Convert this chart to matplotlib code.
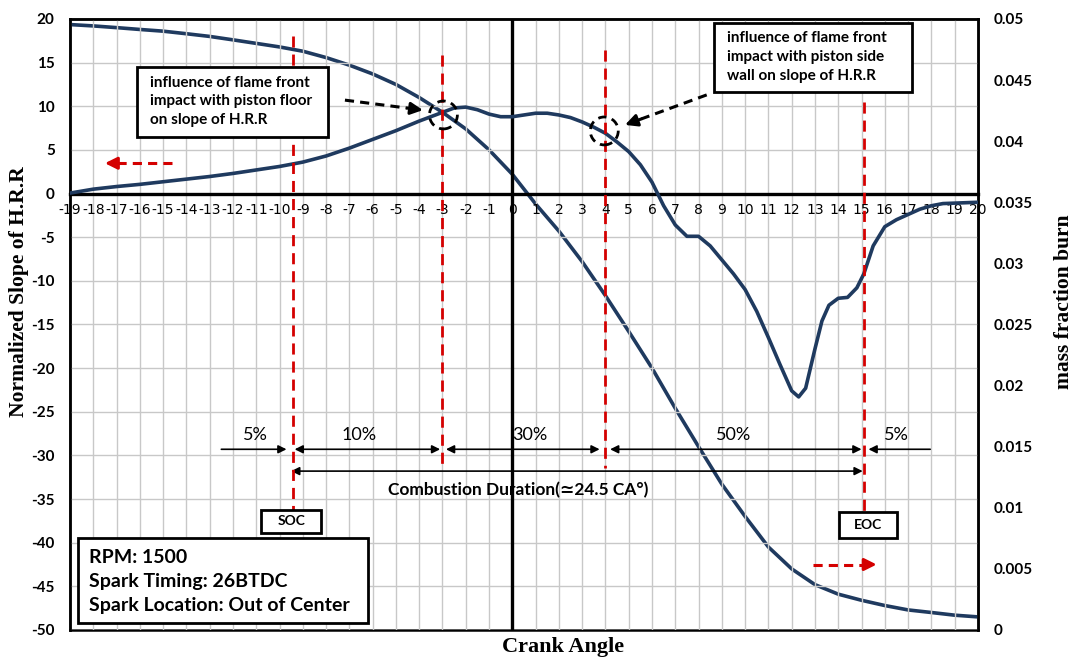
import numpy as np
import matplotlib
matplotlib.use('Agg')
import matplotlib.pyplot as plt
from matplotlib.patches import Ellipse, Rectangle

# ---- data ----
crank_slope = [-19, -18, -17, -16, -15, -14, -13, -12, -11, -10, -9, -8, -7, -6, -5, -4, -3,
               -2.5, -2, -1.5, -1, -0.5, 0, 0.5, 1, 1.5, 2, 2.5, 3, 3.5, 4, 4.5, 5, 5.5, 6,
               6.5, 7, 7.5, 8, 8.5, 9, 9.5, 10, 10.5, 11, 11.5, 12, 12.3, 12.6, 13, 13.3,
               13.6, 14, 14.4, 14.8, 15.1, 15.5, 16, 16.5, 17, 17.5, 18, 18.5, 19, 20]
slope_hrr = [0.05, 0.5, 0.8, 1.05, 1.35, 1.65, 1.95, 2.3, 2.7, 3.1, 3.6, 4.3, 5.2, 6.2, 7.2, 8.3, 9.3,
             9.8, 9.9, 9.6, 9.1, 8.8, 8.8, 9.0, 9.2, 9.2, 9.0, 8.7, 8.2, 7.6, 6.9, 5.9, 4.8, 3.3, 1.3,
             -1.4, -3.6, -4.9, -4.9, -6.0, -7.6, -9.2, -11.0, -13.5, -16.5, -19.6, -22.6, -23.3, -22.3, -17.8, -14.6,
             -12.8, -12.0, -11.9, -10.8, -9.2, -6.0, -3.8, -3.0, -2.4, -1.8, -1.4, -1.15, -1.1, -1.0]

crank_mfb = [-19, -18, -17, -16, -15, -14, -13, -12, -11, -10, -9, -8, -7, -6, -5, -4, -3, -2, -1,
             0, 1, 2, 3, 4, 5, 6, 7, 8, 9, 10, 11, 12, 13, 14, 15, 16, 17, 18, 19, 20]
mass_fraction = [0.04954, 0.04943, 0.04929, 0.04914, 0.04900, 0.04879, 0.04857, 0.04829, 0.04800,
                 0.04771, 0.04736, 0.04684, 0.04622, 0.04550, 0.04464, 0.04357, 0.04236, 0.04100,
                 0.03929, 0.03729, 0.03486, 0.03264, 0.03014, 0.02736, 0.02443, 0.02143, 0.01814,
                 0.01500, 0.01193, 0.00929, 0.00679, 0.00500, 0.00371, 0.00293, 0.00243, 0.00200,
                 0.00164, 0.00143, 0.00121, 0.00107]

x_ticks = list(range(-19, 21))
left_ticks = list(range(-50, 21, 5))
right_ticks = [0, 0.005, 0.01, 0.015, 0.02, 0.025, 0.03, 0.035, 0.04, 0.045, 0.05]
right_ticklabels = ['0', '0.005', '0.01', '0.015', '0.02', '0.025', '0.03', '0.035', '0.04', '0.045', '0.05']

soc, ca10, ca40, eoc = -9.4, -3.0, 4.0, 15.1
phase_labels = ['5%', '10%', '30%', '50%', '5%']

navy = '#1f3a5f'
red = '#d40000'
sans = ['Lato', 'DejaVu Sans']
serif = 'Liberation Serif'

fig = plt.figure(figsize=(10.77, 6.58), dpi=100)
ax = fig.add_axes([0.065, 0.0426, 0.843, 0.9286])
ax2 = ax.twinx()
ax.set_zorder(ax2.get_zorder() + 1)
ax.patch.set_visible(False)

ax.set_xlim(-19, 20)
ax.set_ylim(-50, 20)
ax2.set_ylim(0, 0.05)

ax.set_xticks(x_ticks)
ax.set_xticklabels([str(t) for t in x_ticks], fontsize=10, fontweight='bold', family=sans)
ax.set_yticks(left_ticks)
ax.set_yticklabels([str(t) for t in left_ticks], fontsize=11, fontweight='bold', family=sans)
ax2.set_yticks(right_ticks)
ax2.set_yticklabels(right_ticklabels, fontsize=11, fontweight='bold', family=sans)
ax.tick_params(axis='x', length=0, pad=7)
ax.tick_params(axis='y', length=0, pad=11)
ax2.tick_params(axis='y', length=0, pad=11)

ax2.grid(False)
ax.set_axisbelow(True)
ax.grid(True, color='#c8c8c8', linewidth=1.0)

ax.spines['bottom'].set_position(('data', 0))
ax.spines['bottom'].set_linewidth(2.4)
for s in ['left', 'top', 'right']:
    ax.spines[s].set_linewidth(1.8)
for s in ax2.spines.values():
    s.set_linewidth(1.8)
ax.axvline(0, color='black', linewidth=2.4, zorder=2)

# curves
ax.plot(crank_slope, slope_hrr, color=navy, linewidth=2.6, zorder=3)
ax2.plot(crank_mfb, mass_fraction, color=navy, linewidth=2.6, zorder=3)

# axis labels
ax.set_ylabel('Normalized Slope of H.R.R', family=serif, fontweight='bold', fontsize=15.5)
ax.yaxis.set_label_coords(-0.045, 0.553)
ax2.set_ylabel('mass fraction burn', family=serif, fontweight='bold', fontsize=15.5, rotation=90)
ax2.yaxis.set_label_coords(1.084, 0.538)
ax.set_xlabel('Crank Angle', family=serif, fontweight='bold', fontsize=16)
ax.xaxis.set_label_coords(0.543, -0.012)

# phase boundaries
dash = (0, (4, 2.5))
for xv, y0, y1 in [(soc, 18.1, -36.2), (ca10, 15.9, -31.7), (ca40, 16.5, -31.4), (eoc, 10.5, -36.5)]:
    ax.plot([xv, xv], [y0, y1], color=red, linewidth=2, linestyle=dash, zorder=4)

arrow_kw = dict(color='black', lw=1.2, shrinkA=0, shrinkB=0, mutation_scale=12)
y_ph = -29.3
ax.annotate('', xy=(-9.7, y_ph), xytext=(-12.5, y_ph), arrowprops=dict(arrowstyle='-|>', **arrow_kw))
ax.annotate('', xy=(-3.1, y_ph), xytext=(-9.35, y_ph), arrowprops=dict(arrowstyle='<|-|>', **arrow_kw))
ax.annotate('', xy=(3.75, y_ph), xytext=(-2.85, y_ph), arrowprops=dict(arrowstyle='<|-|>', **arrow_kw))
ax.annotate('', xy=(15.0, y_ph), xytext=(4.2, y_ph), arrowprops=dict(arrowstyle='<|-|>', **arrow_kw))
ax.annotate('', xy=(15.3, y_ph), xytext=(17.95, y_ph), arrowprops=dict(arrowstyle='-|>', **arrow_kw))
ax.annotate('', xy=(15.05, -31.8), xytext=(-9.5, -31.8), arrowprops=dict(arrowstyle='<|-|>', **arrow_kw))

for xt, lab in zip([-11.05, -6.6, 0.76, 9.5, 16.5], phase_labels):
    ax.text(xt, -27.7, lab, ha='center', va='center', fontsize=13, family=sans, zorder=6)
ax.text(0.26, -33.95, 'Combustion Duration(\u224324.5 CA\u00b0)', ha='center', va='center',
        fontsize=12.5, fontweight='bold', family=sans, zorder=6)


def boxed(x0, x1, y0, y1):
    ax.add_patch(Rectangle((x0, y0), x1 - x0, y1 - y0, facecolor='white', edgecolor='black',
                           linewidth=2, zorder=5))


boxed(-10.8, -8.22, -38.85, -36.2)
ax.text(-9.5, -37.55, 'SOC', ha='center', va='center', fontsize=10, fontweight='bold', family=sans, zorder=6)
boxed(14.04, 16.53, -39.5, -36.5)
ax.text(15.29, -38.0, 'EOC', ha='center', va='center', fontsize=10, fontweight='bold', family=sans, zorder=6)

boxed(-16.12, -7.92, 6.48, 14.5)
ax.text(-15.56, 10.55, 'influence of flame front\nimpact with piston floor\non slope of H.R.R',
        ha='left', va='center', fontsize=11, fontweight='bold', family=sans, linespacing=1.42, zorder=6)
boxed(8.66, 17.17, 11.64, 19.54)
ax.text(9.22, 15.65, 'influence of flame front\nimpact with piston side\nwall on slope of H.R.R',
        ha='left', va='center', fontsize=11, fontweight='bold', family=sans, linespacing=1.42, zorder=6)

boxed(-18.66, -6.2, -49.2, -39.45)
ax.text(-18.18, -44.45, 'RPM: 1500\nSpark Timing: 26BTDC\nSpark Location: Out of Center',
        ha='left', va='center', fontsize=14, fontweight='bold', family=sans, linespacing=1.5, zorder=6)


# dashed arrows (line + solid head)
def dashed_arrow(x0, y0, x1, y1, color, lw, head):
    f = 0.8
    xm = x0 + (x1 - x0) * f
    ym = y0 + (y1 - y0) * f
    ax.plot([x0, xm], [y0, ym], color=color, linewidth=lw, linestyle=(0, (3, 2)), zorder=6)
    ax.annotate('', xy=(x1, y1), xytext=(xm, ym),
                arrowprops=dict(arrowstyle='-|>', color=color, lw=lw, shrinkA=0, shrinkB=0,
                                mutation_scale=head), zorder=6)


dashed_arrow(-14.63, 3.47, -17.5, 3.47, red, 2.2, 18)
dashed_arrow(12.9, -42.5, 15.65, -42.5, red, 2.2, 18)
dashed_arrow(-7.19, 10.7, -3.84, 9.56, 'black', 2.2, 18)
dashed_arrow(8.35, 11.3, 4.84, 7.86, 'black', 2.2, 18)

for cx, cy in [(-2.96, 9.0), (3.95, 7.17)]:
    ax.add_patch(Ellipse((cx, cy), 1.2, 3.2, fill=False, edgecolor='black', linewidth=2,
                         linestyle=(0, (3, 2)), zorder=6))

fig.savefig('out.png', dpi=100)
